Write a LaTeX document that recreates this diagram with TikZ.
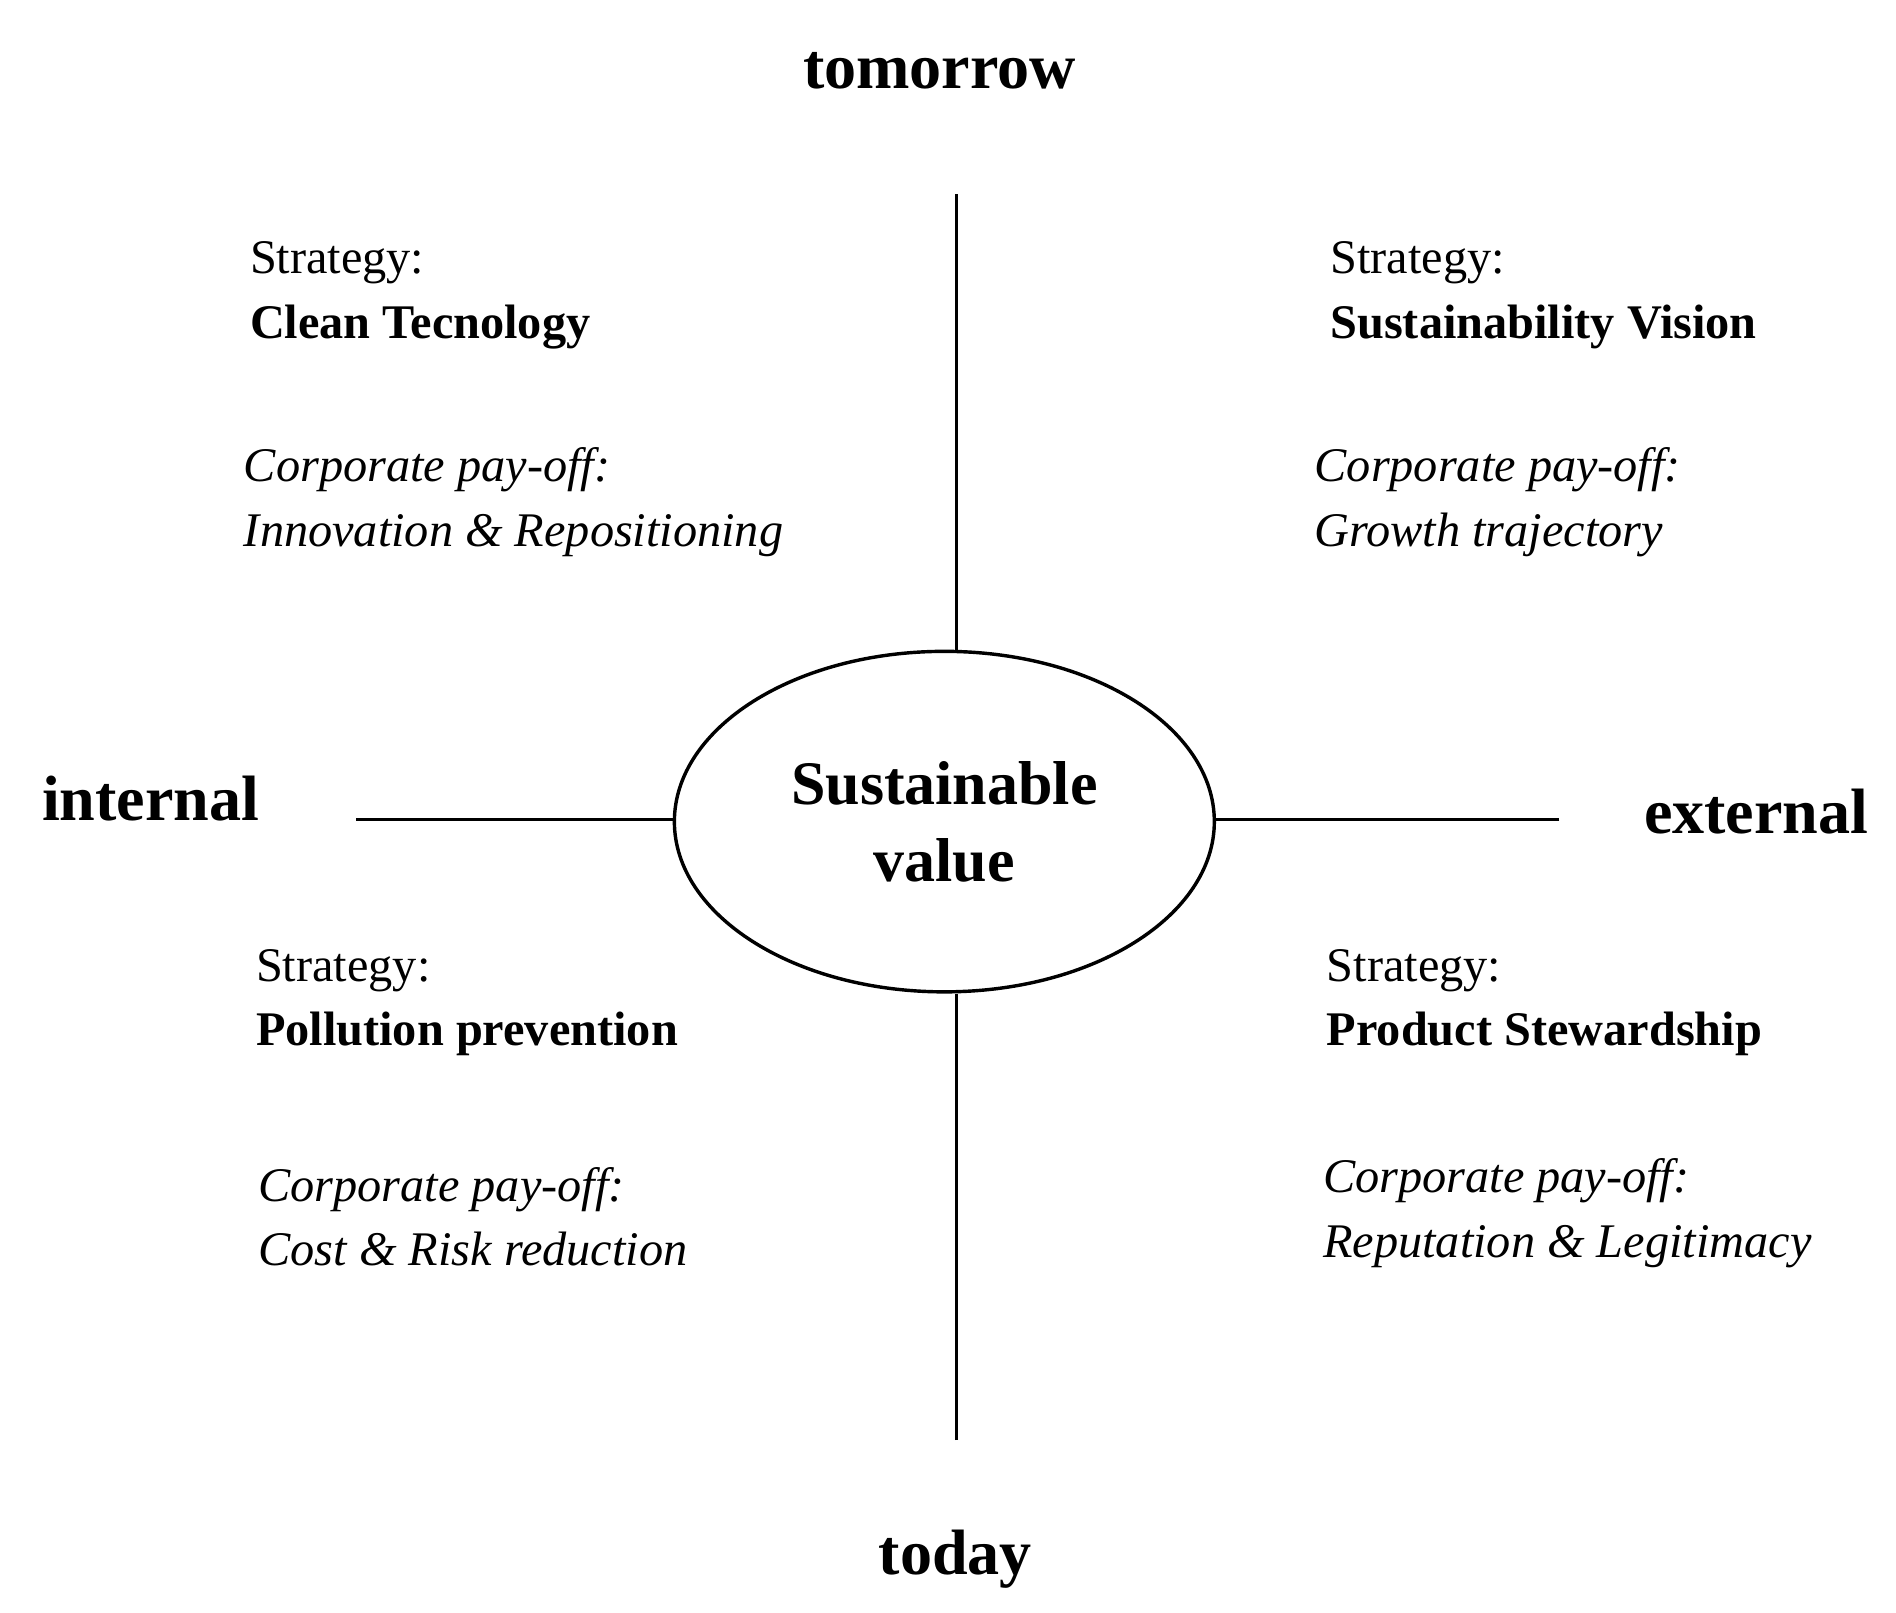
\documentclass[tikz,border=0pt]{standalone}
\usepackage{fontspec}
\setmainfont{Liberation Serif}
\usetikzlibrary{shapes.geometric}
\begin{document}
\begin{tikzpicture}[x=0.01cm,y=-0.01cm,
  axis/.style={font=\bfseries\fontsize{15}{18}\selectfont},
  txt/.style={anchor=west,align=left,font=\fontsize{11.3}{13.4}\selectfont,inner sep=0pt},
  ln/.style={line width=0.7pt}]
\useasboundingbox (0,0) rectangle (1560,1327);
\node[ellipse,draw,line width=0.8pt,minimum width=4.44cm,minimum height=2.8cm,inner sep=0pt,align=center,font=\bfseries\fontsize{14.5}{18}\selectfont] (sv) at (777,676) {Sustainable\\value};
\coordinate (t) at (787,160);
\coordinate (b) at (787,1185);
\coordinate (l) at (293,674);
\coordinate (r) at (1283,674);
\draw[ln] (t) -- (sv.north -| t);
\draw[ln] (b) -- (sv.south -| b);
\draw[ln] (l) -- (sv.west |- l);
\draw[ln] (r) -- (sv.east |- r);
\node[axis] (tom) at (773,58) {tomorrow};
\node[axis] (tod) at (786,1283) {today};
\node[axis] (int) at (124,657) {internal};
\node[axis] (ext) at (1445,668) {external};
\node[txt] (tl1) at (205,243) {Strategy:\\[0.15em]\textbf{Clean Tecnology}};
\node[txt] (tl2) at (200,413) {\itshape Corporate pay-off:\\[0.15em]\itshape Innovation \& Repositioning};
\node[txt] (tr1) at (1094,243) {Strategy:\\[0.15em]\textbf{Sustainability Vision}};
\node[txt] (tr2) at (1081,413) {\itshape Corporate pay-off:\\[0.15em]\itshape Growth trajectory};
\node[txt] (bl1) at (210,825) {Strategy:\\[0.15em]\textbf{Pollution prevention}};
\node[txt] (bl2) at (212,1001) {\itshape Corporate pay-off:\\[0.15em]\itshape Cost \& Risk reduction};
\node[txt] (br1) at (1091,825) {Strategy:\\[0.15em]\textbf{Product Stewardship}};
\node[txt] (br2) at (1088,998) {\itshape Corporate pay-off:\\[0.15em]\itshape Reputation \& Legitimacy};
\end{tikzpicture}
\end{document}
